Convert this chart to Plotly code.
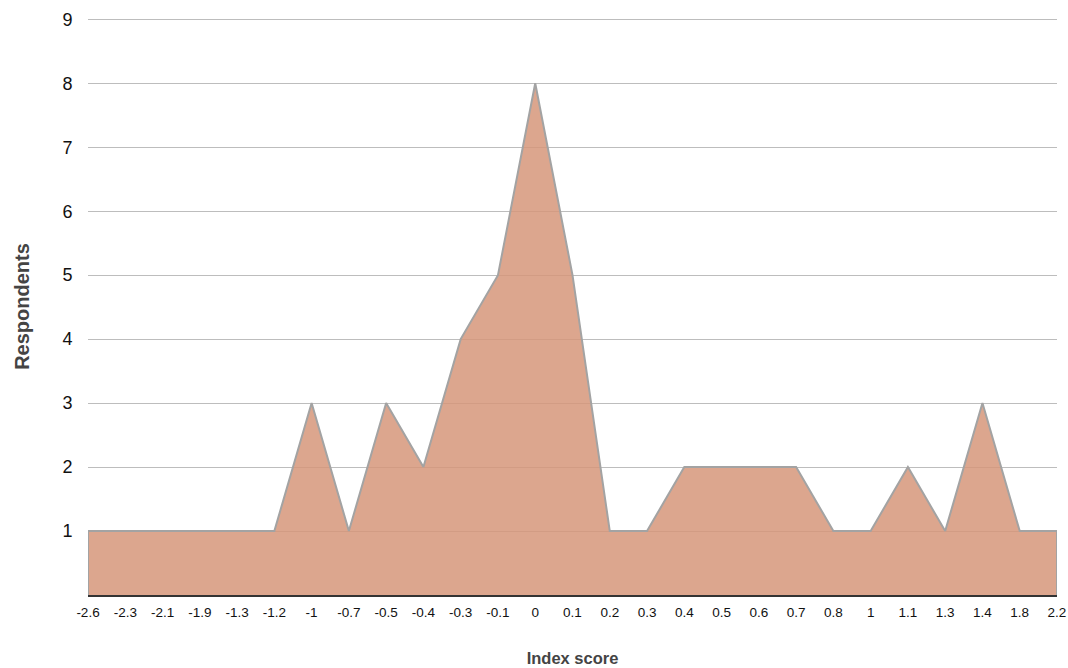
import plotly.graph_objects as go

categories = ["-2.6", "-2.3", "-2.1", "-1.9", "-1.3", "-1.2", "-1", "-0.7", "-0.5", "-0.4",
              "-0.3", "-0.1", "0", "0.1", "0.2", "0.3", "0.4", "0.5", "0.6", "0.7",
              "0.8", "1", "1.1", "1.3", "1.4", "1.8", "2.2"]
respondents = [1, 1, 1, 1, 1, 1, 3, 1, 3, 2,
               4, 5, 8, 5, 1, 1, 2, 2, 2, 2,
               1, 1, 2, 1, 3, 1, 1]
y_ticks = [1, 2, 3, 4, 5, 6, 7, 8, 9]

idx = list(range(len(categories)))
xs = [idx[0]] + idx + [idx[-1]]
ys = [0] + respondents + [0]

fig = go.Figure()
fig.add_trace(go.Scatter(
    x=xs, y=ys, mode="lines", fill="toself",
    fillcolor="rgba(214,150,122,0.85)",
    line=dict(color="#A3A3A3", width=2),
    hoverinfo="skip", showlegend=False,
))

font_family = "Liberation Sans, Arial, sans-serif"
fig.update_layout(
    width=1068, height=668,
    margin=dict(l=88, r=11, t=18, b=73),
    paper_bgcolor="white", plot_bgcolor="white",
    font=dict(family=font_family, color="#111"),
    xaxis=dict(
        range=[0, len(categories) - 1],
        tickmode="array", tickvals=idx, ticktext=categories,
        tickfont=dict(size=13.5, color="#111"),
        showgrid=False, zeroline=False, automargin=False,
        showline=True, linecolor="#333", linewidth=2,
        ticks="outside", ticklen=4, tickcolor="rgba(0,0,0,0)",
        title=dict(text="<b>Index score</b>", font=dict(size=16.5, color="#444"), standoff=33),
    ),
    yaxis=dict(
        range=[0, 9.02],
        tickmode="array", tickvals=y_ticks,
        tickfont=dict(size=18, color="#111"),
        showgrid=True, gridcolor="#BDBDBD", gridwidth=1,
        zeroline=False, showline=False, automargin=False,
        ticks="outside", ticklen=11, tickcolor="rgba(0,0,0,0)",
        title=dict(text="<b>Respondents</b>", font=dict(size=20, color="#444"), standoff=27),
    ),
)
fig.write_html("out.html", config={"displayModeBar": False},
               post_script="document.body.style.margin='0';document.body.style.overflow='hidden';")
